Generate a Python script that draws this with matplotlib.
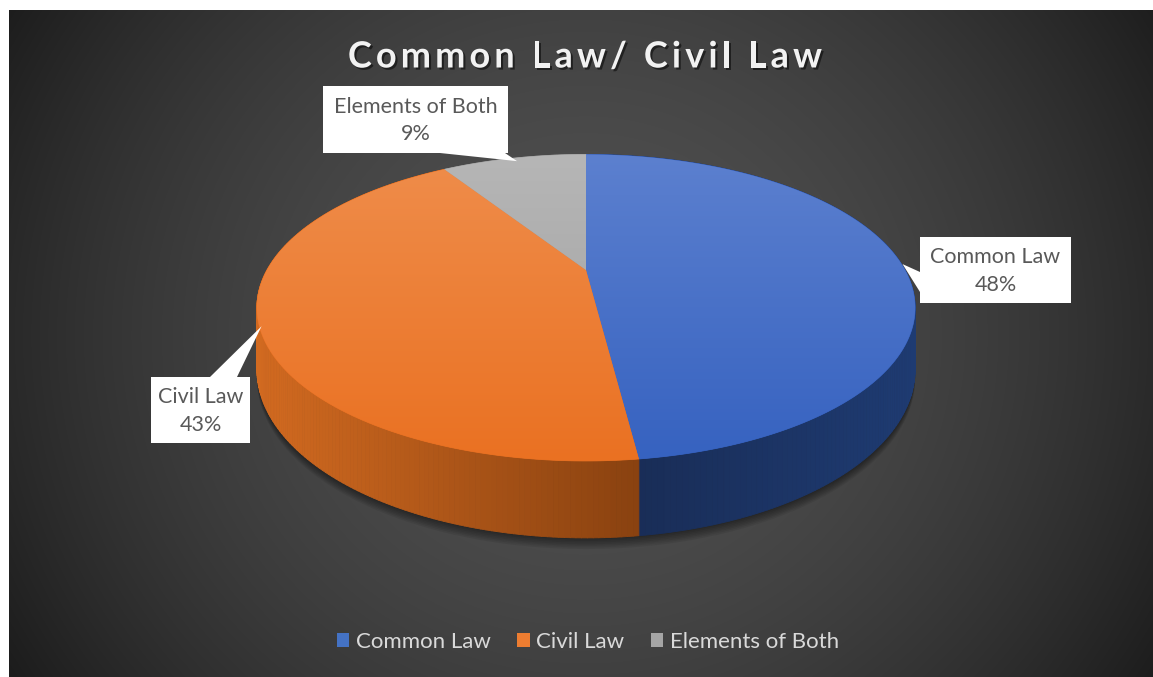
import numpy as np
import matplotlib
matplotlib.use("Agg")
import matplotlib.pyplot as plt
from matplotlib.patches import Polygon, Rectangle, Patch
from matplotlib.collections import PolyCollection
from matplotlib.colors import to_rgb
import matplotlib.patheffects as pe

plt.rcParams["font.family"] = ["Lato", "DejaVu Sans"]

# data
categories = ["Common Law", "Civil Law", "Elements of Both"]
shares = [48, 43, 9]
title = "Common Law/ Civil Law"
top_light = ["#5c80cf", "#ef8d4b", "#b6b6b6"]
top_dark = ["#3662c0", "#ea7122", "#9f9f9f"]
wall_left = ["#192d57", "#d26a20", "#7a7a7a"]
wall_right = ["#1e3b72", "#8a4210", "#7a7a7a"]
legend_colors = ["#4472c4", "#ed7d31", "#a5a5a5"]

W, H = 1153, 677
fig = plt.figure(figsize=(W / 100, H / 100), dpi=100, facecolor="white")
ax = fig.add_axes([0, 0, 1, 1])
ax.set_xlim(0, W)
ax.set_ylim(H, 0)
ax.axis("off")

# radial background
x0, y0 = 9, 10
gx, gy = np.meshgrid(np.arange(x0, W), np.arange(y0, H))
r = np.hypot(gx - 585, (gy - 335) * 1.05) / 660
val = np.clip(80 - 50 * r ** 1.8, 28, 90).round() / 255
bg = np.dstack([val, val, val])
ax.imshow(bg, extent=(x0, W, H, y0), zorder=0, interpolation="nearest")

# pie projection (tilted disc seen in slight perspective)
CX, CY, A, B, K, D = 586, 270, 319, 144, 0.246, 58


def proj(theta, drop=0.0):
    t = np.radians(theta)
    X, Z = np.sin(t), np.cos(t)
    s = 1 / (1 + K * Z)
    return CX + A * X * s, CY - B * Z * s + drop * s


def mix(c1, c2, f):
    a, b = np.array(to_rgb(c1)), np.array(to_rgb(c2))
    return tuple(a + (b - a) * f)


bounds = np.concatenate([[0], np.cumsum(shares)]) / sum(shares) * 360

# soft shadow under the disc
th = np.linspace(0, 360, 361)
for i in range(1, 8):
    bx, by = proj(th, D + i * 1.2)
    ax.add_patch(Polygon(np.column_stack([bx, by]), closed=True,
                         facecolor="black", edgecolor="none", alpha=0.07, zorder=1))

# outer walls
for i in range(len(shares)):
    t = np.linspace(bounds[i], bounds[i + 1], 200)
    tx, ty = proj(t)
    bx, by = proj(t, D)
    quads, cols = [], []
    for j in range(len(t) - 1):
        quads.append([(tx[j], ty[j]), (tx[j + 1], ty[j + 1]),
                      (bx[j + 1], by[j + 1]), (bx[j], by[j])])
        if i == 1:
            f = (tx[j] - 258) / (640 - 258)
        else:
            f = (tx[j] - 640) / (915 - 640)
        cols.append(mix(wall_left[i], wall_right[i], np.clip(f, 0, 1)))
    ax.add_collection(PolyCollection(quads, facecolors=cols, edgecolors=cols,
                                     linewidths=0.6, zorder=2))

# top faces with vertical gradient
grad = np.linspace(0, 1, 256)[:, None]
for i in range(len(shares)):
    t = np.linspace(bounds[i], bounds[i + 1], 300)
    tx, ty = proj(t)
    pts = np.vstack([[CX, CY], np.column_stack([tx, ty])])
    poly = Polygon(pts, closed=True, facecolor=top_dark[i],
                   edgecolor=top_dark[i], linewidth=0.5, zorder=3)
    ax.add_patch(poly)
    c1, c2 = np.array(to_rgb(top_light[i])), np.array(to_rgb(top_dark[i]))
    img = c1[None, None, :] + (c2 - c1)[None, None, :] * grad[:, :, None]
    ymin, ymax = proj(0)[1], proj(180)[1]
    im = ax.imshow(np.repeat(img, 2, axis=1), extent=(CX - A - 20, CX + A + 20, ymax, ymin),
                   zorder=3.5, aspect="auto", interpolation="bilinear")
    im.set_clip_path(poly)

# data label callouts
boxes = [(920, 237, 151, 66), (151, 377, 99, 66), (323, 86, 185, 67)]
bases = [[(920, 272), (920, 292)], [(210, 377), (237, 377)], [(440, 153), (505, 153)]]
for i, name in enumerate(categories):
    mid = (bounds[i] + bounds[i + 1]) / 2
    tipx, tipy = proj(mid)
    bx, by, bw, bh = boxes[i]
    ax.add_patch(Polygon([bases[i][0], bases[i][1], (tipx + 3, tipy + 3)], closed=True,
                         facecolor="white", edgecolor="none", zorder=5))
    ax.add_patch(Rectangle((bx, by), bw, bh, facecolor="white",
                           edgecolor="none", zorder=5))
    ax.text(bx + bw / 2, by + bh / 2 + 1, f"{name}\n{shares[i]}%", ha="center",
            va="center", fontsize=15.5, color="#595959", linespacing=1.45, zorder=6)

# title, drawn glyph by glyph to get the wide tracking
renderer = fig.canvas.get_renderer()
shadow = [pe.withSimplePatchShadow(offset=(1.5, -1.5), shadow_rgbFace="black", alpha=0.5)]
chars = [ax.text(0, 57, ch, ha="left", va="center", fontsize=26, fontweight="bold",
                 color="#f2f2f2", zorder=6, path_effects=shadow) for ch in title]
tracking = 4.1
widths = []
for ch, t in zip(title, chars):
    w, _, _ = renderer.get_text_width_height_descent(ch, t.get_fontproperties(), ismath=False)
    widths.append(w)
total = sum(widths) + tracking * (len(title) - 1)
xpos = 585 - total / 2
for w, t in zip(widths, chars):
    t.set_x(xpos)
    xpos += w + tracking

# legend
handles = [Patch(facecolor=c, edgecolor="none") for c in legend_colors]
ax.legend(handles, categories, loc="center", bbox_to_anchor=(588 / W, 1 - 642 / H),
          ncol=3, frameon=False, fontsize=16, labelcolor="#d9d9d9",
          handlelength=0.55, handleheight=0.55, handletextpad=0.3, columnspacing=1.2)

fig.savefig("out.png", dpi=100, facecolor="white")
